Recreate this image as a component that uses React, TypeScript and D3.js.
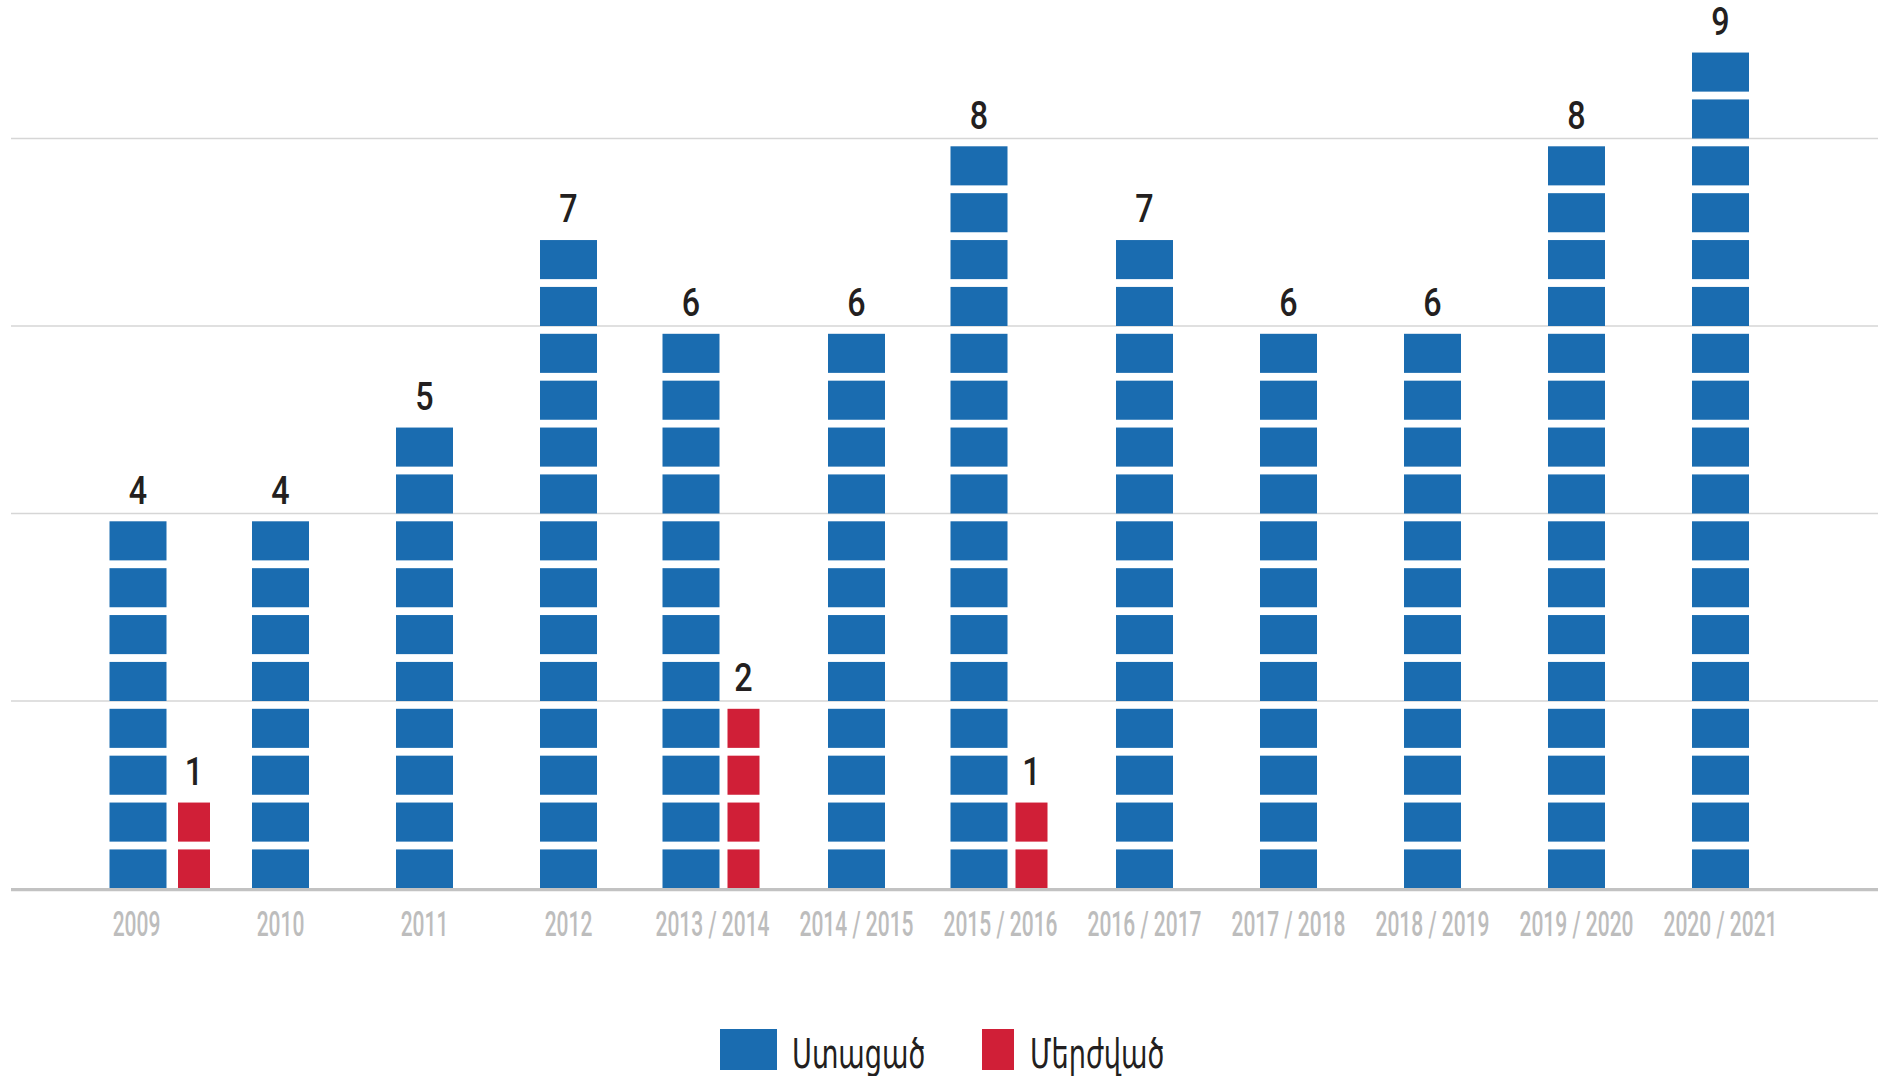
import React from "react";
import * as d3 from "d3";

const categories = [
  "2009", "2010", "2011", "2012", "2013 / 2014", "2014 / 2015",
  "2015 / 2016", "2016 / 2017", "2017 / 2018", "2018 / 2019",
  "2019 / 2020", "2020 / 2021",
];
const received = [4, 4, 5, 7, 6, 6, 8, 7, 6, 6, 8, 9];
const rejected = [1, 0, 0, 0, 2, 0, 1, 0, 0, 0, 0, 0];
const gridTicks = [2, 4, 6, 8];
const seriesNames = ["Ստացած", "Մերժված"];
const seriesColors = ["#1a6cb0", "#d01f37"];

const W = 1887;
const H = 1076;
const BLOCKS_PER_UNIT = 2;
const GAP = 7.8;
const BLUE_W = 57;
const RED_W = 32;

export default function App() {
  const x = d3
    .scalePoint<string>()
    .domain(categories)
    .range([136.5, 136.5 + 11 * 144]);
  const y = d3.scaleLinear().domain([0, 8]).range([888.5, 138.5]);

  const blocks = (v: number) => d3.range(Math.round(v * BLOCKS_PER_UNIT));

  const groups = categories.map((c, i) => {
    const cx = x(c) as number;
    const hasRed = rejected[i] > 0;
    // 2009's label sits on the primary bar; other pairs are centred on the pair
    const anchorPrimary = i === 0;
    let bx = cx;
    let rx = cx;
    if (hasRed) {
      if (anchorPrimary) {
        bx = cx + 1.5;
        rx = cx + 57.5;
      } else {
        bx = cx - 21.5;
        rx = cx + 31;
      }
    }
    return { c, i, cx, bx, rx, hasRed };
  });

  const blockRects = (v: number, center: number, w: number, color: string, key: string) =>
    blocks(v).map((k) => {
      const yb = y(k / BLOCKS_PER_UNIT);
      const yt = y((k + 1) / BLOCKS_PER_UNIT);
      return (
        <rect
          key={`${key}-${k}`}
          x={center - w / 2}
          y={yt + GAP}
          width={w}
          height={yb - yt - GAP}
          fill={color}
        />
      );
    });

  const numFont = "Roboto, 'DejaVu Sans', sans-serif";
  const armFont = "'DejaVu Sans', sans-serif";

  const valueLabel = (v: number, cx: number) => (
    <text
      transform={`translate(${cx},${y(v) - 10}) scale(0.85,1)`}
      textAnchor="middle"
      fontFamily={numFont}
      fontWeight={500}
      fontSize={38}
      fill="#231f20"
    >
      {v}
    </text>
  );

  return (
    <svg
      width={W}
      height={H}
      viewBox={`0 0 ${W} ${H}`}
      style={{ position: "absolute", left: 0, top: 0, display: "block", background: "#fff" }}
    >
      {gridTicks.map((t) => (
        <line key={t} x1={11} x2={1878} y1={y(t)} y2={y(t)} stroke="#d6d6d6" strokeWidth={1.6} />
      ))}

      {groups.map((g) => (
        <g key={g.c}>
          {blockRects(received[g.i], g.bx, BLUE_W, seriesColors[0], `b${g.i}`)}
          {g.hasRed && blockRects(rejected[g.i], g.rx, RED_W, seriesColors[1], `r${g.i}`)}
          {valueLabel(received[g.i], g.bx)}
          {g.hasRed && valueLabel(rejected[g.i], g.rx)}
          <text
            transform={`translate(${g.cx},936) scale(0.6,1)`}
            textAnchor="middle"
            fontFamily={numFont}
            fontWeight={500}
            fontSize={35}
            fill="#bdbdbd"
          >
            {g.c}
          </text>
        </g>
      ))}

      <line x1={11} x2={1878} y1={889.6} y2={889.6} stroke="#c2c2c2" strokeWidth={3.2} />

      {/* legend */}
      <g>
        <rect x={720} y={1029} width={57} height={41} fill={seriesColors[0]} />
        <text transform="translate(792,1068) scale(0.68,1)" fontFamily={armFont} fontSize={40} fill="#231f20">
          {seriesNames[0]}
        </text>
        <rect x={982} y={1029} width={32} height={41} fill={seriesColors[1]} />
        <text transform="translate(1030,1068) scale(0.68,1)" fontFamily={armFont} fontSize={40} fill="#231f20">
          {seriesNames[1]}
        </text>
      </g>
    </svg>
  );
}
